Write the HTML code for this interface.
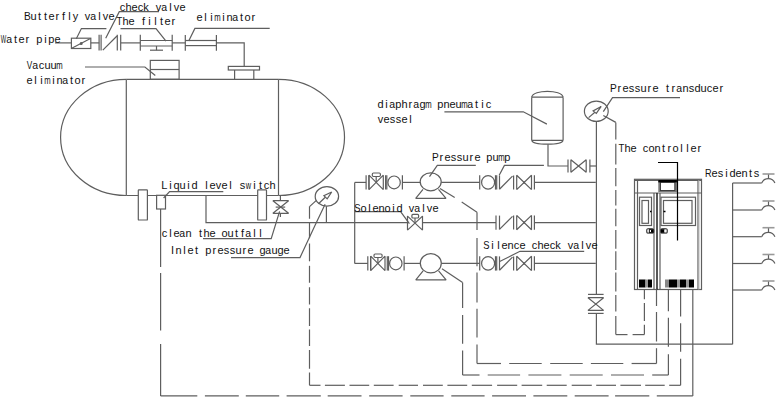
<!DOCTYPE html>
<html><head><meta charset="utf-8"><style>
html,body{margin:0;padding:0;background:#fff;width:780px;height:400px;overflow:hidden}
svg{display:block}
text{font-family:"Liberation Sans",sans-serif;font-size:11px;fill:#111;}
</style></head><body>
<svg width="780" height="400" viewBox="0 0 780 400">
<g fill="none" stroke="#5e5e5e" stroke-width="1.2" stroke-miterlimit="2">
<path d="M55,42.9 L71.5,42.9"/>
<path d="M90.8,42.9 L99.2,42.9"/>
<path d="M120.8,42.9 L140.3,42.9"/>
<path d="M172.2,42.9 L185.3,42.9"/>
<path d="M216.4,42.9 L244.2,42.9 L244.2,66.4"/>
<rect x="71.4" y="38.2" width="19.4" height="10.3"/>
<path d="M72.2,48 L90,38.8"/>
<ellipse cx="81.2" cy="43.4" rx="0.9" ry="0.9" fill="#5e5e5e"/>
<path d="M76.3,38.8 L81.4,28.6 L106.4,28.6"/>
<path d="M99.1,34.8 L99.1,50.5"/>
<path d="M101.1,34.8 L101.1,50.5"/>
<path d="M102.8,50.2 L117,36"/>
<path d="M117.3,34.8 L117.3,50.5"/>
<path d="M120.7,34.8 L120.7,50.5"/>
<path d="M105.7,38.2 L119.3,11.7 L159,11.7"/>
<path d="M140.3,34.8 L140.3,50.7"/>
<path d="M172.2,34.8 L172.2,50.7"/>
<path d="M140.3,40.5 L172.2,40.5"/>
<path d="M140.3,46 L172.2,46"/>
<path d="M156.5,46 L156.5,50.2"/>
<path d="M150,50.2 L163,50.2"/>
<path d="M166,41.2 L156,28.6 L120.5,28.6"/>
<path d="M185.3,34.9 L185.3,50.8"/>
<path d="M216.4,34.9 L216.4,50.8"/>
<path d="M185.3,40.5 L216.4,40.5"/>
<path d="M185.3,45.6 L216.4,45.6"/>
<path d="M188.7,41 L194.9,28.4 L269.7,28.4"/>
<rect x="228.3" y="66.4" width="31.2" height="3.6"/>
<path d="M234.6,70 L234.6,79.4"/>
<path d="M253.8,70 L253.8,79.4"/>
<rect x="150.3" y="60.4" width="28.8" height="18.9"/>
<path d="M150.3,69.5 L179.1,69.5"/>
<path d="M85,67 L144.9,67 L155.3,75.5"/>
<path d="M126.3,79.4 L278.5,79.4"/>
<path d="M126.3,195.5 L278.5,195.5"/>
<path d="M126.3,79.4 L126.3,195.5"/>
<path d="M278.5,79.4 L278.5,195.5"/>
<path d="M126.3,79.4 A65.6,57.95 0 0 0 126.3,195.5"/>
<path d="M278.5,79.4 A65.9,57.95 0 0 1 278.5,195.5"/>
<rect x="138.3" y="189.8" width="9.1" height="30.2" fill="#fff" rx="0.6"/>
<rect x="257.7" y="189.8" width="8.8" height="30.2" fill="#fff" rx="0.6"/>
<rect x="156.6" y="195.3" width="8.9" height="13.7" fill="#fff"/>
<path d="M163.6,198 L169.6,191.6 L223.3,191.6"/>
<path d="M206,195.5 L206,222.6 L407.5,222.6"/>
<path d="M280.4,195.3 L280.4,200.7"/>
<path d="M280.4,213.3 L280.4,217"/>
<path d="M272.9,200.7 L288.6,200.7 L272.9,213.3 L288.6,213.3 Z"/>
<path d="M275.7,207.1 L285.2,207.1"/>
<path d="M279.6,211.4 L271.2,238.6 L203,238.6"/>
<ellipse cx="326.9" cy="196.4" rx="11.7" ry="9.8"/>
<path d="M318.5,203.7 L325.3,197.3"/>
<path d="M331.7,192 L323.9,195.6 L327.2,198.9 Z"/>
<path d="M325.1,204.3 L315.2,225 L300,257.6 L231,257.6"/>
<path d="M326.4,206.2 L326.4,222.6"/>
<path d="M316.4,200.4 L309.5,206.6"/>
<path d="M309.5,206.4 L309.5,218.75"/>
<path d="M309.5,222 L309.5,238.25"/>
<path d="M309.5,243.5 L309.5,261.3"/>
<path d="M309.5,265.8 L309.5,282.75"/>
<path d="M309.5,287.25 L309.5,304.5"/>
<path d="M309.5,308.25 L309.5,326"/>
<path d="M309.5,329.5 L309.5,346"/>
<path d="M309.5,350 L309.5,368.75"/>
<path d="M309.5,372.5 L309.5,385.3"/>
<path d="M354.7,182.4 L354.7,263.4"/>
<path d="M354.7,182.4 L366.1,182.4"/>
<path d="M366.1,175.2 L366.1,189.6"/>
<path d="M368.9,175.2 L368.9,189.6"/>
<path d="M369,175.2 L383.3,189.6 L383.3,175.2 L369,189.6 Z"/>
<path d="M376.2,182.4 L376.2,176.5"/>
<rect x="372.3" y="173" width="8.1" height="3.5" rx="1.2"/>
<path d="M385.6,175.2 L385.6,189.6"/>
<path d="M386.8,175.2 L386.8,189.6"/>
<ellipse cx="394.1" cy="182.4" rx="6.2" ry="6.4"/>
<path d="M402.4,175.2 L402.4,189.6"/>
<path d="M402.4,182.4 L420.2,182.4"/>
<ellipse cx="430.7" cy="181.8" rx="10.5" ry="9"/>
<path d="M423,189.3 L415.7,198.4 L446,198.4 L438.5,189.3"/>
<path d="M441.2,182.4 L479.7,182.4"/>
<path d="M479.7,175.2 L479.7,189.6"/>
<ellipse cx="488.1" cy="182.4" rx="6.5" ry="6.8"/>
<path d="M495.5,175.2 L495.5,189.6"/>
<path d="M496.7,175.2 L496.7,189.6"/>
<path d="M499.5,175.4 L499.5,189.4"/>
<path d="M499.7,189 L512.5,176.1"/>
<path d="M513.6,175.4 L513.6,189.4"/>
<path d="M516.7,175.2 L531.5,189.6 L531.5,175.2 L516.7,189.6 Z"/>
<path d="M524,180.9 L524,183.9"/>
<path d="M534.4,175.2 L534.4,189.6"/>
<path d="M534.4,182.4 L595.8,182.4"/>
<path d="M354.7,263.4 L367.8,263.4"/>
<path d="M367.8,256.2 L367.8,270.6"/>
<path d="M370.6,256.2 L370.6,270.6"/>
<path d="M370.7,256.2 L385,270.6 L385,256.2 L370.7,270.6 Z"/>
<path d="M377.9,263.4 L377.9,257.5"/>
<rect x="374" y="254" width="8.1" height="3.5" rx="1.2"/>
<path d="M387.3,256.2 L387.3,270.6"/>
<path d="M388.5,256.2 L388.5,270.6"/>
<ellipse cx="395.8" cy="263.4" rx="6.2" ry="6.4"/>
<path d="M404.1,256.2 L404.1,270.6"/>
<path d="M404.1,263.4 L420.2,263.4"/>
<ellipse cx="430.8" cy="263.3" rx="10.5" ry="9.6"/>
<path d="M423.1,270.8 L415.8,279.9 L446.1,279.9 L438.6,270.8"/>
<path d="M441.3,263.4 L479.7,263.4"/>
<path d="M479.7,256.2 L479.7,270.6"/>
<ellipse cx="488.1" cy="263.4" rx="6.5" ry="6.8"/>
<path d="M495.5,256.2 L495.5,270.6"/>
<path d="M496.7,256.2 L496.7,270.6"/>
<path d="M499.5,256.4 L499.5,270.4"/>
<path d="M499.7,270 L512.5,257.1"/>
<path d="M513.6,256.4 L513.6,270.4"/>
<path d="M516.7,256.2 L531.5,270.6 L531.5,256.2 L516.7,270.6 Z"/>
<path d="M524,261.9 L524,264.9"/>
<path d="M534.4,256.2 L534.4,270.6"/>
<path d="M534.4,263.4 L595.8,263.4"/>
<path d="M422.5,222.6 L496,222.6"/>
<path d="M496,215.4 L496,229.8"/>
<path d="M499.5,215.6 L499.5,229.6"/>
<path d="M499.7,229.2 L512.5,216.3"/>
<path d="M513.6,215.6 L513.6,229.6"/>
<path d="M516.7,215.4 L531.5,229.8 L531.5,215.4 L516.7,229.8 Z"/>
<path d="M524,221.1 L524,224.1"/>
<path d="M534.4,215.4 L534.4,229.8"/>
<path d="M534.4,222.6 L595.8,222.6"/>
<path d="M407.5,216.1 L422.5,230.1 L422.5,216.1 L407.5,230.1 Z"/>
<rect x="411.9" y="214.4" width="6.7" height="3.6" rx="1"/>
<path d="M415,218 L415,222.6"/>
<path d="M355,211.6 L400.6,211.6 L409.4,223.6"/>
<path d="M429.5,176.7 L437.3,165.3 L475.8,165.3"/>
<path d="M499.2,175.3 L504.4,165.4 L543.9,165.4"/>
<path d="M499.2,261.7 L520,251.3 L584.2,251.3"/>
<path d="M531.7,97.2 L531.7,140.3 M563.1,97.2 L563.1,140.3 M531.7,97.2 L563.1,97.2 M531.7,140.3 L563.1,140.3"/>
<path d="M531.7,97.2 C533,89.3 561.8,89.3 563.1,97.2 M531.7,140.3 C533,145.5 561.8,145.5 563.1,140.3"/>
<path d="M548,144.3 L548,166 L568,166"/>
<path d="M568,159.5 L568,172.5"/>
<path d="M570.9,159.8 L586.2,172.2 L586.2,159.8 L570.9,172.2 Z"/>
<path d="M589.9,159.5 L589.9,172.5"/>
<path d="M589.9,166 L596,166"/>
<path d="M444.4,111.8 L523.3,111.8 L546.9,124.1"/>
<ellipse cx="596.3" cy="111.25" rx="11.9" ry="10.15"/>
<path d="M588.6,117.6 L594.9,112.3"/>
<path d="M601.2,106.4 L593.1,110.9 L596.3,113.4 Z"/>
<path d="M603.3,111.6 L612.5,97.6 L680,97.6"/>
<path d="M596.4,121.4 L596.4,294.4"/>
<path d="M596.4,313.4 L596.4,344.2 L732.6,344.2"/>
<path d="M588,294.4 L603.6,294.4"/>
<path d="M588,313.4 L603.6,313.4"/>
<path d="M588,297.7 L603.6,297.7 L588,310.4 L603.6,310.4 Z"/>
<path d="M603.3,115.5 L615.8,122.4"/>
<path d="M615.8,122.4 L615.8,139.5"/>
<path d="M615.8,143.75 L615.8,164.5"/>
<path d="M615.8,168 L615.8,186.25"/>
<path d="M615.8,190 L615.8,205.5"/>
<path d="M615.8,208.75 L615.8,226.25"/>
<path d="M615.8,230 L615.8,248.75"/>
<path d="M615.8,251.25 L615.8,270"/>
<path d="M615.8,272.5 L615.8,291.5"/>
<path d="M615.8,295 L615.8,311.5"/>
<path d="M615.8,316 L615.8,334.6"/>
<path d="M615.8,334.6 L627.5,334.6"/>
<path d="M632.6,334.6 L644.4,334.6"/>
<path d="M644.4,289.5 L644.4,299.2"/>
<path d="M644.4,303 L644.4,321"/>
<path d="M644.4,324.7 L644.4,334.6"/>
<rect x="634.5" y="179.3" width="67" height="110.2"/>
<path d="M634.5,180.3 L701.5,180.3"/>
<path d="M637.5,180.3 L637.5,289.5"/>
<path d="M698,180.3 L698,289.5"/>
<path d="M698.8,180.3 L698.8,289.5" stroke="#aaa"/>
<path d="M634.5,193 L701.5,193"/>
<rect x="658.3" y="180" width="18.6" height="12" fill="#777" stroke="none"/>
<rect x="658.3" y="180" width="18.6" height="2.4" fill="#000" stroke="none"/>
<rect x="660.5" y="182.4" width="14.3" height="8" fill="#fff" stroke="#222" stroke-width="0.8"/>
<rect x="639.5" y="197.2" width="12" height="28.3"/>
<rect x="642" y="200.5" width="6.5" height="22.8"/>
<rect x="661" y="197.2" width="34.5" height="28.3"/>
<rect x="663.5" y="200.5" width="28.5" height="22.8"/>
<path d="M650,211.5 L651.5,211.5" stroke="#000" stroke-width="1.5"/>
<path d="M663.5,211.5 L665.5,211.5" stroke="#000" stroke-width="1.5"/>
<path d="M654,193 L654,289.5"/>
<path d="M657,193 L657,289.5" stroke="#111" stroke-width="1.4"/>
<path d="M660,193 L660,289.5"/>
<rect x="646.6" y="228.6" width="7.2" height="4.6" fill="#ddd" stroke="#555" rx="2"/>
<rect x="660.6" y="228.6" width="6.8" height="4.6" fill="#ddd" stroke="#555" rx="2"/>
<rect x="649" y="229.2" width="4.6" height="3.6" fill="#000" stroke="none"/>
<rect x="660.8" y="229.2" width="3.6" height="3.6" fill="#000" stroke="none"/>
<rect x="649.8" y="230" width="1.2" height="2" fill="#fff" stroke="none"/>
<rect x="664.5" y="230" width="1.2" height="2" fill="#fff" stroke="none"/>
<rect x="639" y="279.5" width="6.5" height="8" fill="#000" stroke="none"/>
<rect x="645.5" y="279.5" width="2.5" height="8" fill="#999" stroke="none"/>
<rect x="648" y="279.5" width="4.0" height="8" fill="#000" stroke="none"/>
<rect x="665" y="279.5" width="4.0" height="8" fill="#888" stroke="none"/>
<rect x="669" y="279.5" width="8.0" height="8" fill="#000" stroke="none"/>
<rect x="677" y="279.5" width="3.0" height="8" fill="#999" stroke="none"/>
<rect x="680" y="279.5" width="6.0" height="8" fill="#000" stroke="none"/>
<rect x="686" y="279.5" width="3.0" height="8" fill="#999" stroke="none"/>
<rect x="689" y="279.5" width="5.0" height="8" fill="#000" stroke="none"/>
<path d="M658,162.5 L677.5,162.5 L677.5,240.5" stroke="#000"/>
<path d="M732.6,183 L732.6,344.2"/>
<path d="M732.6,183 L761.75,183"/>
<path d="M761.75,183 A7.1,7.1 0 0 1 774.9,183"/>
<path d="M768.5,178.5 L768.5,174"/>
<path d="M762.5,174 L774.5,174" stroke="#999" stroke-width="1.6"/>
<path d="M732.6,210 L761.75,210"/>
<path d="M761.75,210 A7.1,7.1 0 0 1 774.9,210"/>
<path d="M768.5,205.5 L768.5,201"/>
<path d="M762.5,201 L774.5,201" stroke="#999" stroke-width="1.6"/>
<path d="M732.6,236.7 L761.75,236.7"/>
<path d="M761.75,236.7 A7.1,7.1 0 0 1 774.9,236.7"/>
<path d="M768.5,232.2 L768.5,227.7"/>
<path d="M762.5,227.7 L774.5,227.7" stroke="#999" stroke-width="1.6"/>
<path d="M732.6,263.5 L761.75,263.5"/>
<path d="M761.75,263.5 A7.1,7.1 0 0 1 774.9,263.5"/>
<path d="M768.5,259 L768.5,254.5"/>
<path d="M762.5,254.5 L774.5,254.5" stroke="#999" stroke-width="1.6"/>
<path d="M732.6,290 L761.75,290"/>
<path d="M761.75,290 A7.1,7.1 0 0 1 774.9,290"/>
<path d="M768.5,285.5 L768.5,281"/>
<path d="M762.5,281 L774.5,281" stroke="#999" stroke-width="1.6"/>
<path d="M440,188.6 L454.7,197.5"/>
<path d="M461.7,202 L477,212.2"/>
<path d="M477,212.2 L477,230"/>
<path d="M477,238 L477,266.25"/>
<path d="M477,272.5 L477,302.5"/>
<path d="M477,308.75 L477,337.5"/>
<path d="M477,344.5 L477,363.5"/>
<path d="M477,363.5 L501,363.5"/>
<path d="M509.2,363.5 L541.7,363.5"/>
<path d="M550.2,363.5 L582.7,363.5"/>
<path d="M590.9,363.5 L623.3,363.5"/>
<path d="M631.6,363.5 L656.5,363.5"/>
<path d="M656.5,289.5 L656.5,306"/>
<path d="M656.5,312 L656.5,341.5"/>
<path d="M656.5,348.2 L656.5,363.5"/>
<path d="M442,268.7 L462.6,282.5"/>
<path d="M462.6,282.5 L462.6,308"/>
<path d="M462.6,315 L462.6,343.75"/>
<path d="M462.6,350.5 L462.6,375"/>
<path d="M462.6,375 L479.5,375"/>
<path d="M487.7,375 L520.1,375"/>
<path d="M528.4,375 L561.4,375"/>
<path d="M569.7,375 L602.7,375"/>
<path d="M611,375 L644,375"/>
<path d="M652.2,375 L668.4,375"/>
<path d="M668.4,289.5 L668.4,311.2"/>
<path d="M668.4,317.7 L668.4,346.7"/>
<path d="M668.4,354.2 L668.4,375"/>
<path d="M309.5,385.3 L320.5,385.3"/>
<path d="M324.9,385.3 L344.9,385.3"/>
<path d="M349.5,385.3 L369.2,385.3"/>
<path d="M373.8,385.3 L393.6,385.3"/>
<path d="M398.7,385.3 L418,385.3"/>
<path d="M423,385.3 L442.8,385.3"/>
<path d="M447.4,385.3 L467.2,385.3"/>
<path d="M471.8,385.3 L492.1,385.3"/>
<path d="M497.1,385.3 L517.2,385.3"/>
<path d="M521.6,385.3 L542.2,385.3"/>
<path d="M546.7,385.3 L566.7,385.3"/>
<path d="M571.7,385.3 L591.8,385.3"/>
<path d="M596.2,385.3 L616,385.3"/>
<path d="M620.4,385.3 L641,385.3"/>
<path d="M645.2,385.3 L664.7,385.3"/>
<path d="M669.2,385.3 L680.6,385.3"/>
<path d="M680.6,289.5 L680.6,316.5"/>
<path d="M680.6,323.2 L680.6,351.7"/>
<path d="M680.6,358.7 L680.6,385.3"/>
<path d="M160.6,209 L160.6,267"/>
<path d="M160.6,273 L160.6,330.5"/>
<path d="M160.6,344 L160.6,395.9"/>
<path d="M160.6,395.9 L197.3,395.9"/>
<path d="M204.9,395.9 L238.8,395.9"/>
<path d="M245.8,395.9 L279.2,395.9"/>
<path d="M286.6,395.9 L320.8,395.9"/>
<path d="M327.7,395.9 L361.5,395.9"/>
<path d="M369.2,395.9 L402.6,395.9"/>
<path d="M410.3,395.9 L443.6,395.9"/>
<path d="M451.3,395.9 L484.6,395.9"/>
<path d="M492.1,395.9 L526,395.9"/>
<path d="M533.4,395.9 L567.3,395.9"/>
<path d="M574.7,395.9 L608.6,395.9"/>
<path d="M615.1,395.9 L649.3,395.9"/>
<path d="M656.8,395.9 L692.8,395.9"/>
<path d="M692.8,289.5 L692.8,395.9"/>
</g>
<g stroke="none">
<text x="23.97" y="20" textLength="6.77" lengthAdjust="spacingAndGlyphs">B</text>
<text x="72.77" y="20" textLength="5.45" lengthAdjust="spacingAndGlyphs">y</text>
<text x="84.76" y="20" textLength="5.47" lengthAdjust="spacingAndGlyphs">v</text>
<text x="90.35" y="20" textLength="5.85" lengthAdjust="spacingAndGlyphs">a</text>
<text x="102.76" y="20" textLength="5.47" lengthAdjust="spacingAndGlyphs">v</text>
<text x="30.45 37.93 43.93 48.45 55.39 61.89 68.28 98.28 108.45" y="20">utterflle</text>
<text x="155.76" y="11" textLength="5.47" lengthAdjust="spacingAndGlyphs">v</text>
<text x="161.35" y="11" textLength="5.85" lengthAdjust="spacingAndGlyphs">a</text>
<text x="173.76" y="11" textLength="5.47" lengthAdjust="spacingAndGlyphs">v</text>
<text x="119.66 125.42 131.45 137.66 143.37 169.28 179.45" y="11">checkle</text>
<text x="116.59" y="25" textLength="5.83" lengthAdjust="spacingAndGlyphs">T</text>
<text x="122.42 128.45 141.89 148.28 154.28 159.93 164.45 171.39" y="25">hefilter</text>
<text x="214.29" y="21" textLength="6.42" lengthAdjust="spacingAndGlyphs">m</text>
<text x="232.35" y="21" textLength="5.85" lengthAdjust="spacingAndGlyphs">a</text>
<text x="196.45 204.28 210.28 222.28 226.43 239.93 244.44 251.39" y="21">eliintor</text>
<text x="0.77" y="43" textLength="5.45" lengthAdjust="spacingAndGlyphs">W</text>
<text x="6.35" y="43" textLength="5.85" lengthAdjust="spacingAndGlyphs">a</text>
<text x="13.93 18.45 25.39 36.32 44.28 48.32 54.45" y="43">terpipe</text>
<text x="26.76" y="69" textLength="5.47" lengthAdjust="spacingAndGlyphs">V</text>
<text x="32.35" y="69" textLength="5.85" lengthAdjust="spacingAndGlyphs">a</text>
<text x="56.29" y="69" textLength="6.42" lengthAdjust="spacingAndGlyphs">m</text>
<text x="38.66 44.45 50.45" y="69">cuu</text>
<text x="44.29" y="84" textLength="6.42" lengthAdjust="spacingAndGlyphs">m</text>
<text x="62.35" y="84" textLength="5.85" lengthAdjust="spacingAndGlyphs">a</text>
<text x="26.45 34.28 40.28 52.28 56.43 69.93 74.44 81.39" y="84">eliintor</text>
<text x="389.35" y="108" textLength="5.85" lengthAdjust="spacingAndGlyphs">a</text>
<text x="413.35" y="108" textLength="5.85" lengthAdjust="spacingAndGlyphs">a</text>
<text x="425.29" y="108" textLength="6.42" lengthAdjust="spacingAndGlyphs">m</text>
<text x="461.29" y="108" textLength="6.42" lengthAdjust="spacingAndGlyphs">m</text>
<text x="467.35" y="108" textLength="5.85" lengthAdjust="spacingAndGlyphs">a</text>
<text x="377.56 385.28 395.32 401.42 408.39 419.56 437.32 443.43 449.45 455.45 474.93 481.28 485.66" y="108">diphrgpneutic</text>
<text x="377.76" y="123" textLength="5.47" lengthAdjust="spacingAndGlyphs">v</text>
<text x="383.45 389.8 395.8 401.45 409.28" y="123">essel</text>
<text x="431.97" y="161" textLength="6.77" lengthAdjust="spacingAndGlyphs">P</text>
<text x="498.29" y="161" textLength="6.42" lengthAdjust="spacingAndGlyphs">m</text>
<text x="439.39 444.45 450.8 456.8 462.45 469.39 474.45 486.32 492.45 504.32" y="161">ressurepup</text>
<text x="609.97" y="92" textLength="6.77" lengthAdjust="spacingAndGlyphs">P</text>
<text x="676.35" y="92" textLength="5.85" lengthAdjust="spacingAndGlyphs">a</text>
<text x="617.39 622.45 628.8 634.8 640.45 647.39 652.45 665.93 671.39 682.43 688.8 694.56 700.45 706.66 712.45 719.39" y="92">ressuretrnsducer</text>
<text x="618.59" y="152" textLength="5.83" lengthAdjust="spacingAndGlyphs">T</text>
<text x="624.42 630.45 642.66 648.44 654.43 661.93 667.39 672.44 680.28 686.28 690.45 697.39" y="152">hecontroller</text>
<text x="705.05" y="177" textLength="6.57" lengthAdjust="spacingAndGlyphs">R</text>
<text x="711.45 717.8 725.28 729.56 735.45 741.43 748.93 753.8" y="177">esidents</text>
<text x="215.76" y="189" textLength="5.47" lengthAdjust="spacingAndGlyphs">v</text>
<text x="245.81" y="189" textLength="5.37" lengthAdjust="spacingAndGlyphs">w</text>
<text x="161.17 169.28 173.56 179.45 187.28 191.56 205.28 209.45 221.45 229.28 239.8 253.28 258.93 263.66 269.42" y="189">Liquidleelsitch</text>
<text x="354.37" y="212" textLength="6.26" lengthAdjust="spacingAndGlyphs">S</text>
<text x="408.76" y="212" textLength="5.47" lengthAdjust="spacingAndGlyphs">v</text>
<text x="414.35" y="212" textLength="5.85" lengthAdjust="spacingAndGlyphs">a</text>
<text x="426.76" y="212" textLength="5.47" lengthAdjust="spacingAndGlyphs">v</text>
<text x="360.44 368.28 372.45 378.43 384.44 392.28 396.56 422.28 432.45" y="212">olenoidle</text>
<text x="179.35" y="237" textLength="5.85" lengthAdjust="spacingAndGlyphs">a</text>
<text x="245.35" y="237" textLength="5.85" lengthAdjust="spacingAndGlyphs">a</text>
<text x="161.66 169.28 173.45 185.43 198.93 203.42 209.45 221.44 227.45 234.93 240.89 253.28 259.28" y="237">clentheoutfll</text>
<text x="265.35" y="254" textLength="5.85" lengthAdjust="spacingAndGlyphs">a</text>
<text x="170.97 175.43 183.28 187.45 194.93 205.32 212.39 217.45 223.8 229.8 235.45 242.39 247.45 259.56 271.45 277.56 283.45" y="254">Inletpressureguge</text>
<text x="483.37" y="249" textLength="6.26" lengthAdjust="spacingAndGlyphs">S</text>
<text x="567.76" y="249" textLength="5.47" lengthAdjust="spacingAndGlyphs">v</text>
<text x="573.35" y="249" textLength="5.85" lengthAdjust="spacingAndGlyphs">a</text>
<text x="585.76" y="249" textLength="5.47" lengthAdjust="spacingAndGlyphs">v</text>
<text x="491.28 497.28 501.45 507.43 513.66 519.45 531.66 537.42 543.45 549.66 555.37 581.28 591.45" y="249">ilencecheckle</text>
</g>
</svg>
</body></html>
